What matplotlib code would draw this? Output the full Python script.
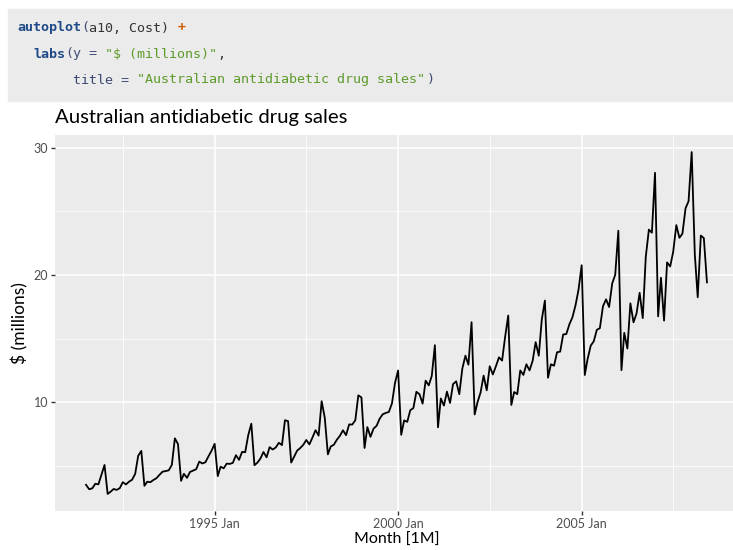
import numpy as np
import pandas as pd
import matplotlib
matplotlib.use("Agg")
import matplotlib.pyplot as plt
import matplotlib.dates as mdates

# a10: monthly antidiabetic drug cost ($ millions), Jul 1991 - Jun 2008
months = pd.date_range("1991-07-01", "2008-06-01", freq="MS")
cost = [
    3.526591, 3.180891, 3.252221, 3.611003, 3.565869, 4.306371,
    5.088335, 2.814520, 2.985811, 3.204780, 3.127578, 3.270523,
    3.737851, 3.558776, 3.777202, 3.924490, 4.386531, 5.810549,
    6.192068, 3.450857, 3.772307, 3.734303, 3.905399, 4.049687,
    4.315566, 4.562185, 4.608662, 4.667851, 5.093841, 7.179962,
    6.731473, 3.841278, 4.394076, 4.075341, 4.540645, 4.645615,
    4.752607, 5.350605, 5.204455, 5.301651, 5.773742, 6.204593,
    6.749484, 4.216067, 4.949349, 4.823045, 5.194754, 5.170787,
    5.256742, 5.855277, 5.490729, 6.115293, 6.088473, 7.416598,
    8.329452, 5.069796, 5.262557, 5.597126, 6.110296, 5.689161,
    6.486849, 6.300569, 6.467476, 6.828629, 6.649078, 8.606937,
    8.524471, 5.277918, 5.714303, 6.214529, 6.411929, 6.667716,
    7.050831, 6.704919, 7.250988, 7.819733, 7.398101, 10.096233,
    8.798513, 5.918261, 6.534493, 6.675736, 7.064201, 7.383381,
    7.813496, 7.431892, 8.275117, 8.260441, 8.596156, 10.558939,
    10.391416, 6.421535, 8.062619, 7.297739, 7.936916, 8.165323,
    8.717420, 9.070964, 9.177113, 9.251887, 9.933136, 11.532974,
    12.511462, 7.457199, 8.591191, 8.474000, 9.386803, 9.560399,
    10.834295, 10.643751, 9.908162, 11.710041, 11.340151, 12.079132,
    14.497581, 8.049275, 10.312891, 9.753358, 10.850382, 9.961719,
    11.443601, 11.659239, 10.647060, 12.652134, 13.674466, 12.965735,
    16.300269, 9.053485, 10.002449, 10.788750, 12.106705, 10.954101,
    12.844566, 12.196500, 12.854748, 13.542004, 13.287640, 15.134918,
    16.828350, 9.800215, 10.816994, 10.654223, 12.512323, 12.161210,
    12.998046, 12.517276, 13.268658, 14.733622, 13.669382, 16.503966,
    18.003768, 11.938030, 12.997900, 12.882645, 13.943447, 13.989472,
    15.339097, 15.370764, 16.142005, 16.685754, 17.636728, 18.869325,
    20.778723, 12.154552, 13.402392, 14.459239, 14.795102, 15.705248,
    15.829550, 17.554701, 18.100864, 17.496668, 19.347265, 20.031291,
    23.486694, 12.536987, 15.467018, 14.233539, 17.783058, 16.291602,
    16.980282, 18.612189, 16.623343, 21.430241, 23.575517, 23.334206,
    28.038383, 16.763869, 19.792754, 16.427305, 21.000742, 20.681002,
    21.834890, 23.930204, 22.930357, 23.263340, 25.250030, 25.806090,
    29.665356, 21.654285, 18.264945, 23.107677, 22.912510, 19.431740,
]
major_dates = pd.to_datetime(["1995-01-01", "2000-01-01", "2005-01-01"])
major_labels = ["1995 Jan", "2000 Jan", "2005 Jan"]
minor_dates = pd.to_datetime(["1992-07-02", "1997-07-02", "2002-07-02", "2007-07-02"])
y_major = [10, 20, 30]
y_minor = [5, 15, 25]

W, H = 733, 550
fig = plt.figure(figsize=(W / 100, H / 100), dpi=100)
fig.patch.set_facecolor("white")

# code block at the top
bg = plt.Rectangle((8 / W, 1 - 101 / H), 1 - 8 / W, 92 / H,
                   transform=fig.transFigure, color="#EBEBEB", zorder=0)
fig.patches.append(bg)

code_fs = 9.6
cw = 0.6021 * code_fs * 100 / 72  # px per char
fn_col, op_col, str_col, txt_col, arg_col = "#204A87", "#CE5C00", "#5E9B2A", "#333333", "#3E4A74"
code_lines = [
    (28, [("autoplot", fn_col, "bold"), ("(", arg_col, "normal"), ("a10, Cost)", txt_col, "normal"),
          (" ", txt_col, "normal"), ("+", op_col, "bold")]),
    (54, [("  ", txt_col, "normal"), ("labs", fn_col, "bold"), ("(", arg_col, "normal"),
          ("y = ", arg_col, "normal"), ('"$ (millions)"', str_col, "normal"), (",", txt_col, "normal")]),
    (80, [("       ", txt_col, "normal"), ("title = ", arg_col, "normal"),
          ('"Australian antidiabetic drug sales"', str_col, "normal"), (")", arg_col, "normal")]),
]
for ypix, segs in code_lines:
    col = 0
    for s, c, w in segs:
        fig.text((17 + col * cw) / W, 1 - ypix / H, s, color=c, fontweight=w,
                 family="DejaVu Sans Mono", fontsize=code_fs, va="center", ha="left")
        col += len(s)

# main panel
left, right, top, bottom = 55, 738, 135, 511
ax = fig.add_axes([left / W, 1 - bottom / H, (right - left) / W, (bottom - top) / H])
ax.set_facecolor("#EBEBEB")
ax.plot(months, cost, color="black", lw=1.3, zorder=3)

span = months[-1] - months[0]
ax.set_xlim(months[0] - span * 0.05, months[-1] + span * 0.05)
rng = max(cost) - min(cost)
ax.set_ylim(min(cost) - rng * 0.05, max(cost) + rng * 0.05)

ax.set_xticks(major_dates)
ax.set_xticklabels(major_labels)
ax.set_xticks(minor_dates, minor=True)
ax.set_yticks(y_major)
ax.set_yticks(y_minor, minor=True)
ax.grid(which="major", color="white", lw=1.1, zorder=0)
ax.grid(which="minor", color="white", lw=0.55, zorder=0)
ax.set_axisbelow(True)
for sp in ax.spines.values():
    sp.set_visible(False)

font = "Lato"
ax.tick_params(which="major", length=3, width=1.0, color="#333333", labelcolor="#4D4D4D",
               labelsize=9, pad=2)
ax.tick_params(which="minor", length=0)
for lab in ax.get_xticklabels() + ax.get_yticklabels():
    lab.set_family(font)

ax.set_xlabel("Month [1M]", family=font, fontsize=11.5, color="black", labelpad=2)
ax.set_ylabel("$ (millions)", family=font, fontsize=12.5, color="black", labelpad=4)
fig.text(left / W, 1 - 117 / H, "Australian antidiabetic drug sales", family=font,
         fontsize=14.6, va="center", ha="left", color="black")

fig.savefig("out.png", dpi=100)
